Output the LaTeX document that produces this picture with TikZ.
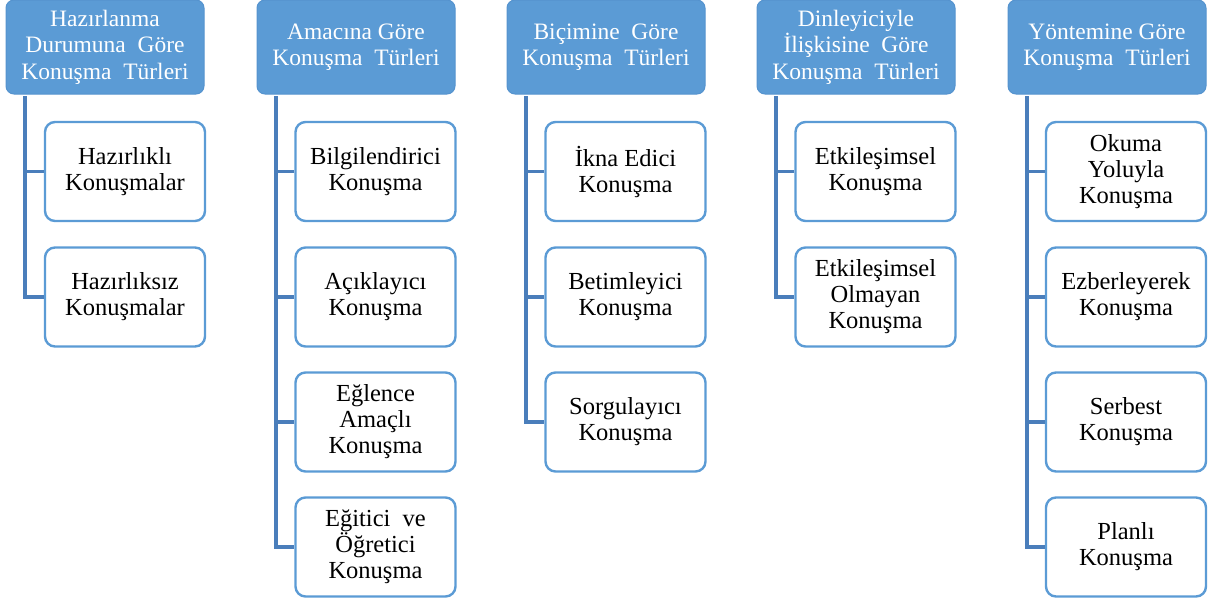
\documentclass[tikz,border=0pt]{standalone}
\usepackage{fontspec}
\setmainfont{Liberation Serif}
\definecolor{hdr}{HTML}{5B9BD5}
\definecolor{hdrline}{HTML}{5593CE}
\definecolor{conncol}{HTML}{4A7EBB}
\begin{document}
\begin{tikzpicture}[x=1pt,y=-1pt,
  hdrbox/.style={rectangle, rounded corners=8pt, minimum width=198pt, minimum height=94pt,
    fill=hdr, draw=hdrline, line width=1pt, text=white, align=center, inner sep=1pt,
    font=\fontsize{23.5}{26.5}\selectfont},
  kidbox/.style={rectangle, rounded corners=10pt, minimum width=160pt, minimum height=99pt,
    fill=white, draw=hdr, line width=2.4pt, align=center, inner sep=1pt,
    font=\fontsize{24.5}{26}\selectfont},
  conn/.style={draw=conncol, line width=3.6pt}]
\useasboundingbox (0,0) rectangle (1219,605);
% headers
\node[hdrbox] (h1) at (105,47) {Hazırlanma\\Durumuna\ \ Göre\\Konuşma\ \ Türleri};
\node[hdrbox] (h2) at (356,47) {Amacına Göre\\Konuşma\ \ Türleri};
\node[hdrbox] (h3) at (606,47) {Biçimine\ \ Göre\\Konuşma\ \ Türleri};
\node[hdrbox] (h4) at (856,47) {Dinleyiciyle\\İlişkisine\ \ Göre\\Konuşma\ \ Türleri};
\node[hdrbox] (h5) at (1107,47) {Yöntemine Göre\\Konuşma\ \ Türleri};
% children column 1
\node[kidbox] (c11) at (125,171.5) {Hazırlıklı\\Konuşmalar};
\node[kidbox] (c12) at (125,297) {Hazırlıksız\\Konuşmalar};
% column 2
\node[kidbox] (c21) at (375.5,171.5) {Bilgilendirici\\Konuşma};
\node[kidbox] (c22) at (375.5,297) {Açıklayıcı\\Konuşma};
\node[kidbox] (c23) at (375.5,422) {Eğlence\\Amaçlı\\Konuşma};
\node[kidbox] (c24) at (375.5,547) {Eğitici\ \ ve\\Öğretici\\Konuşma};
% column 3
\node[kidbox] (c31) at (625.5,171.5) {İkna Edici\\Konuşma};
\node[kidbox] (c32) at (625.5,297) {Betimleyici\\Konuşma};
\node[kidbox] (c33) at (625.5,422) {Sorgulayıcı\\Konuşma};
% column 4
\node[kidbox] (c41) at (875.5,171.5) {Etkileşimsel\\Konuşma};
\node[kidbox] (c42) at (875.5,297) {Etkileşimsel\\Olmayan\\Konuşma};
% column 5
\node[kidbox] (c51) at (1126,171.5) {Okuma\\Yoluyla\\Konuşma};
\node[kidbox] (c52) at (1126,297) {Ezberleyerek\\Konuşma};
\node[kidbox] (c53) at (1126,422) {Serbest\\Konuşma};
\node[kidbox] (c54) at (1126,547) {Planlı\\Konuşma};
% trunk coordinates
\coordinate (v1) at (25,96);
\coordinate (v2) at (276,96);
\coordinate (v3) at (526,96);
\coordinate (v4) at (776,96);
\coordinate (v5) at (1027,96);
% connectors
\draw[conn] (v1) |- (c12.west);
\draw[conn] (c11.west) -- (c11.west -| v1);
\draw[conn] (v2) |- (c24.west);
\draw[conn] (c21.west) -- (c21.west -| v2);
\draw[conn] (c22.west) -- (c22.west -| v2);
\draw[conn] (c23.west) -- (c23.west -| v2);
\draw[conn] (v3) |- (c33.west);
\draw[conn] (c31.west) -- (c31.west -| v3);
\draw[conn] (c32.west) -- (c32.west -| v3);
\draw[conn] (v4) |- (c42.west);
\draw[conn] (c41.west) -- (c41.west -| v4);
\draw[conn] (v5) |- (c54.west);
\draw[conn] (c51.west) -- (c51.west -| v5);
\draw[conn] (c52.west) -- (c52.west -| v5);
\draw[conn] (c53.west) -- (c53.west -| v5);
\end{tikzpicture}
\end{document}
